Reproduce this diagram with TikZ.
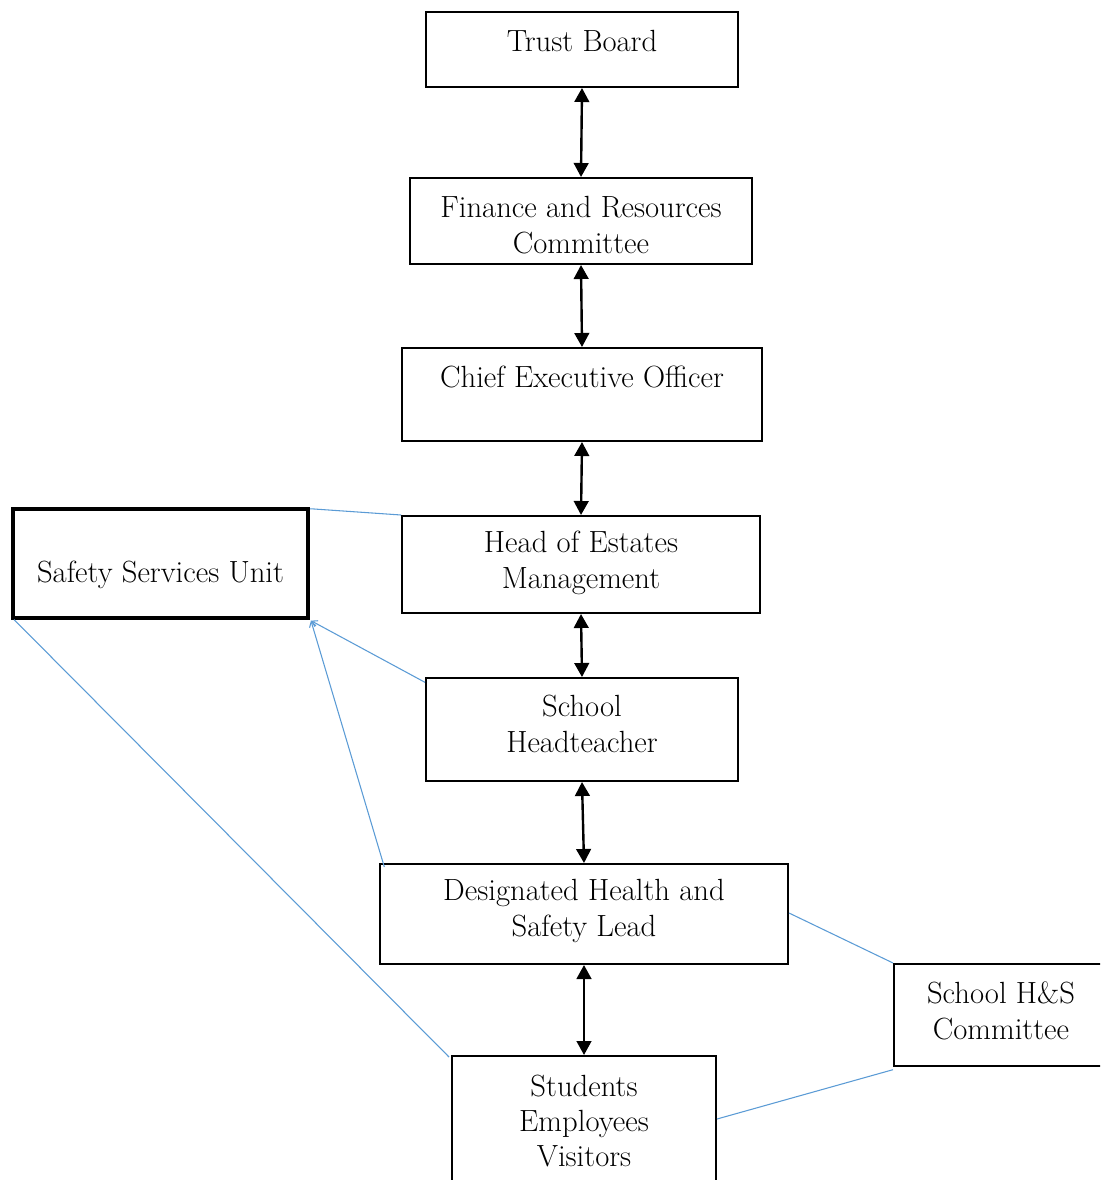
\documentclass[tikz,border=0pt]{standalone}
\usetikzlibrary{arrows.meta}
\definecolor{linkblue}{RGB}{91,155,213}
\begin{document}
\begin{tikzpicture}[x=0.75pt,y=-0.75pt,
  box/.style={draw=black,line width=1.5pt,fill=white,inner sep=0pt},
  thickbox/.style={box,line width=2.4pt},
  lab/.style={font=\fontsize{23}{26.5}\selectfont,align=center,inner sep=0pt},
  dbl/.style={line width=1.8pt,{Triangle[length=10.5pt,width=11pt]}-{Triangle[length=10.5pt,width=11pt]}},
  blue/.style={draw=linkblue,line width=0.8pt},
  bluearr/.style={blue,-{Straight Barb[length=4pt,width=5pt]}}]
\useasboundingbox (0,0) rectangle (1100,1180);
\clip (0,0) rectangle (1100,1180);
% boxes
\node[box,minimum width=312*0.75pt,minimum height=75*0.75pt] (tb) at (582,49.5) {};
\node[box,minimum width=342*0.75pt,minimum height=86*0.75pt] (fr) at (581,221) {};
\node[box,minimum width=360*0.75pt,minimum height=93*0.75pt] (ceo) at (582,394.5) {};
\node[box,minimum width=358*0.75pt,minimum height=97*0.75pt] (hoe) at (581,564.5) {};
\node[box,minimum width=312*0.75pt,minimum height=103*0.75pt] (ht) at (582,729.5) {};
\node[box,minimum width=408*0.75pt,minimum height=100*0.75pt] (dhsl) at (584,914) {};
\node[box,minimum width=264*0.75pt,minimum height=160*0.75pt] (sev) at (584,1136) {};
\node[thickbox,minimum width=295*0.75pt,minimum height=109*0.75pt] (ssu) at (160.5,563.5) {};
\node[box,minimum width=240*0.75pt,minimum height=102*0.75pt] (hsc) at (1014,1015) {};
% labels
\node[lab] (tbl) at (582,41) {Trust Board};
\node[lab] (frl) at (581,225) {Finance and Resources\\Committee};
\node[lab] (ceol) at (582,377) {Chief Executive Officer};
\node[lab] (hoel) at (581,563) {Head of Estates\\Management};
\node[lab] (htl) at (582,724) {School\\Headteacher};
\node[lab] (dhsll) at (584,911) {Designated Health and\\Safety Lead};
\node[lab] (sevl) at (584,1121) {Students\\Employees\\Visitors};
\node[lab] (ssul) at (160.5,575) {Safety Services Unit};
\node[lab] (hscl) at (1001,1011) {School H\&S\\Committee};
% black arrows
\draw[dbl] (tb.south) -- (fr.north);
\draw[dbl] (fr.south) -- (ceo.north);
\draw[dbl] (ceo.south) -- (hoe.north);
\draw[dbl] (hoe.south) -- (ht.north);
\draw[dbl] (ht.south) -- (dhsl.north);
\draw[dbl] (dhsl.south) -- (sev.north);
% blue connectors
\coordinate (ssuTR) at ([xshift=0.5pt,yshift=-1pt]ssu.north east);
\coordinate (ssuBR) at ([xshift=1pt,yshift=-0.8pt]ssu.south east);
\coordinate (ssuBL) at ([xshift=2pt]ssu.south west);
\coordinate (hoeTL) at (hoe.north west);
\coordinate (htTL) at ([yshift=-4pt]ht.north west);
\coordinate (dhslTL) at ([xshift=4pt,yshift=-3pt]dhsl.north west);
\coordinate (dhslR) at ([yshift=-37.5pt]dhsl.north east);
\coordinate (hscTL) at (hsc.north west);
\coordinate (hscBL) at ([yshift=-2pt]hsc.south west);
\coordinate (sevTL) at ([xshift=-1.5pt,yshift=-1.5pt]sev.north west);
\coordinate (sevR) at ([yshift=-48pt]sev.north east);
\draw[blue] (ssuTR) -- (hoeTL);
\draw[bluearr] (htTL) -- (ssuBR);
\draw[bluearr] (dhslTL) -- (ssuBR);
\draw[blue] (ssuBL) -- (sevTL);
\draw[blue] (dhslR) -- (hscTL);
\draw[blue] (hscBL) -- (sevR);
\end{tikzpicture}
\end{document}
